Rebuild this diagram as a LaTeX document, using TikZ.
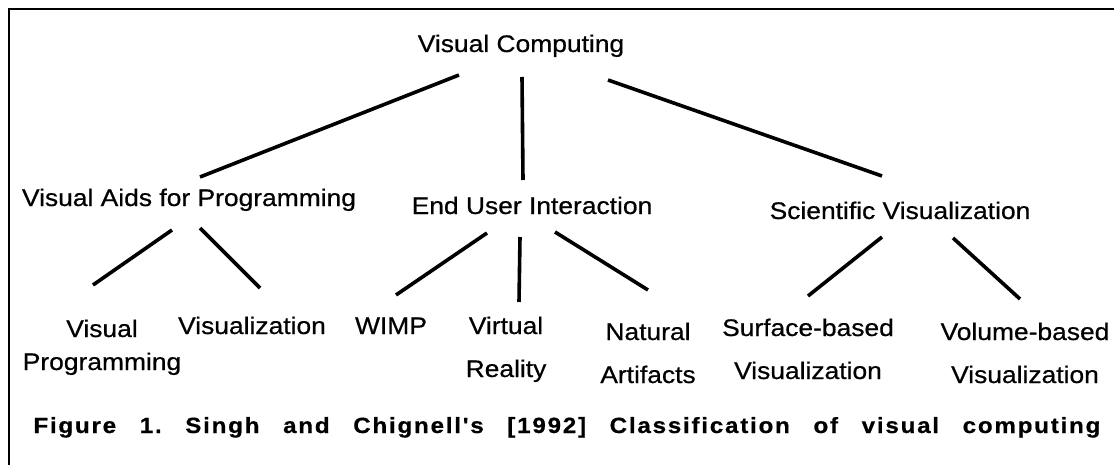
\documentclass[tikz,border=0pt]{standalone}
\usepackage{fontspec}
\setmainfont{Liberation Sans}[FakeStretch=1.1,FakeBold=0.6]
\newfontfamily\capfont{Liberation Sans}[FakeStretch=1.1,LetterSpace=8,BoldFeatures={FakeBold=0.6}]
\usetikzlibrary{calc}
\tikzset{
	term/.style={inner sep=0pt,anchor=base,font=\fontsize{12}{21.5}\selectfont},
	pair/.style={term,align=center},
	link/.style={line width=1.8pt}
}

\begin{document}
\begin{tikzpicture}[x=0.5pt,y=-0.5pt]
	\useasboundingbox (0,0) rectangle (1114,465);
	\draw [line width=1.4pt] (1114,9) -- (9,9) -- (9,465);

	\node [term] (vc) at (521,52) {Visual Computing};

	\node [term] (vap) at (189,206) {Visual Aids for Programming};
	\node [term] (eui) at (532,214) {End User Interaction};
	\node [term] (sv) at (900,219) {Scientific Visualization};

	% two-line labels sit on the baseline of their last line
	\node [pair,font=\fontsize{12}{16.5}\selectfont] (vp) at (102,370) {Visual\\Programming};
	\node [term] (viz) at (252,334) {Visualization};
	\node [term] (wimp) at (391,334) {WIMP};
	\node [pair] (vr) at (506,377) {Virtual\\Reality};
	\node [pair] (na) at (648,383) {Natural\\Artifacts};
	\node [pair] (sb) at (808,379) {Surface-based\\Visualization};
	\node [pair] (vb) at (1025,383) {Volume-based\\Visualization};

	\draw [link] ($(vc.base)+(-62,23)$) -- ($(vap.base)+(11,-29)$);
	\draw [link] ($(vc.base)+(1,25)$) -- ($(eui.base)+(-9,-34)$);
	\draw [link] ($(vc.base)+(87,28)$) -- ($(sv.base)+(-18,-43)$);

	\draw [link] ($(vap.base)+(-17,24)$) -- ($(vp.base)+(-9,-85)$);
	\draw [link] ($(vap.base)+(11,22)$) -- ($(viz.base)+(8,-46)$);
	\draw [link] ($(eui.base)+(-45,19)$) -- ($(wimp.base)+(5,-39)$);
	\draw [link] ($(eui.base)+(-12,23)$) -- ($(vr.base)+(13,-75)$);
	\draw [link] ($(eui.base)+(23,18)$) -- ($(na.base)+(0,-93)$);
	\draw [link] ($(sv.base)+(-18,18)$) -- ($(sb.base)+(0,-83)$);
	\draw [link] ($(sv.base)+(53,19)$) -- ($(vb.base)+(-5,-84)$);

	\node [anchor=base west,inner sep=0pt,font=\capfont\bfseries\fontsize{11}{13}\selectfont] (cap) at (33,433)
		{\makebox[533.5pt][s]{Figure 1.\ Singh and Chignell's [1992] Classification of visual computing}};
\end{tikzpicture}
\end{document}
